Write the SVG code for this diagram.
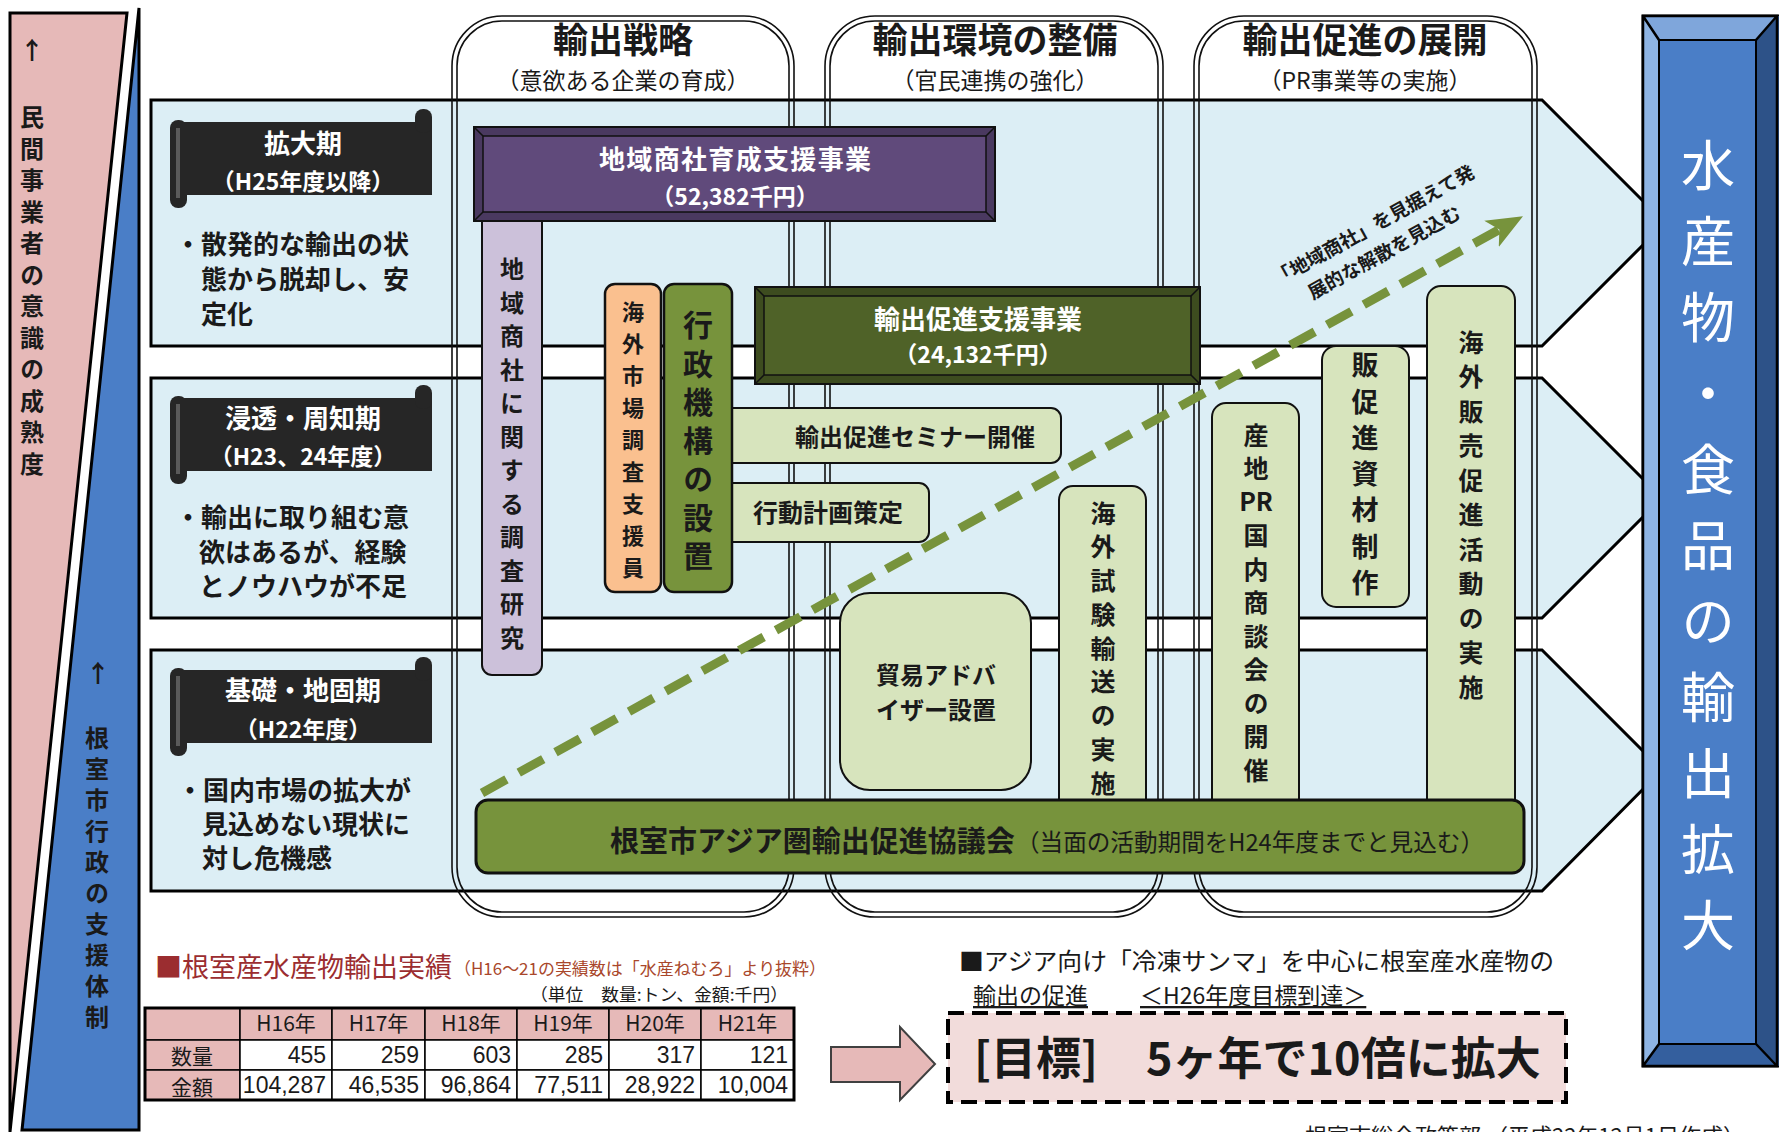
<svg xmlns="http://www.w3.org/2000/svg" width="1779" height="1132" viewBox="0 0 1779 1132">
<defs>
<style>
text{font-family:"Noto Sans CJK JP","Noto Sans",sans-serif;fill:#1a1a1a}
.b{font-weight:700}
.m{text-anchor:middle}
.e{text-anchor:end}
.w{fill:#fff}
.v{writing-mode:vertical-rl;text-anchor:start}
.num{font-family:"Liberation Sans",Arial,sans-serif}
.row{fill:#DCEEF5;stroke:#000;stroke-width:3;stroke-linejoin:miter}
.col{fill:none;stroke:#111;stroke-width:1.6}
.lg{fill:#D7E4BD;stroke:#111;stroke-width:2}
.sc{fill:#262626}
.pk{fill:#E6B9B8;stroke:#000;stroke-width:1.5}
.wc{fill:#fff;stroke:#000;stroke-width:1.5}
.bev{stroke:#111;stroke-width:1.5;fill:none}
</style>
<marker id="ah" markerUnits="userSpaceOnUse" markerWidth="36" markerHeight="36" viewBox="0 0 36 36" refX="12" refY="18" orient="auto"><path d="M0,3 L36,18 L0,33 L9,18 Z" fill="#77933C"/></marker>
</defs>
<rect width="1779" height="1132" fill="#fff"/>

<g id="side-private">
<path d="M10,13 L127,13 L10,1132 Z" fill="#E6B9B8" stroke="#000" stroke-width="3"/>
<text class="b m" x="32" y="59" font-size="24">↑</text>
<text class="b v" x="32" y="105" font-size="24" letter-spacing="7.5">民間事業者の意識の成熟度</text>
</g>
<g id="side-city">
<path d="M139,8 L139,1130 L22,1130 Z" fill="#4A7EC7" stroke="#000" stroke-width="3"/>
<text class="b m" x="98" y="682" font-size="24">↑</text>
<text class="b v" x="97" y="726" font-size="24" letter-spacing="7">根室市行政の支援体制</text>
</g>

<g id="rows">
<path class="row" d="M151,100 H1542 L1665,223 L1542,346 H151 Z"/>
<path class="row" d="M151,378 H1542 L1662,498 L1542,618 H151 Z"/>
<path class="row" d="M151,650 H1542 L1662,770 L1542,891 H151 Z"/>
</g>

<g id="col-strategy">
<rect class="col" x="452" y="16" width="342" height="901" rx="50"/>
<rect class="col" x="457" y="21" width="332" height="891" rx="45"/>
<text class="b m" x="623" y="53" font-size="35">輸出戦略</text>
<text class="m" x="623" y="89" font-size="23">（意欲ある企業の育成）</text>
</g>
<g id="col-environment">
<rect class="col" x="825" y="16" width="338" height="901" rx="50"/>
<rect class="col" x="830" y="21" width="328" height="891" rx="45"/>
<text class="b m" x="995" y="53" font-size="35">輸出環境の整備</text>
<text class="m" x="995" y="89" font-size="23">（官民連携の強化）</text>
</g>
<g id="col-promotion">
<rect class="col" x="1194" y="16" width="343" height="901" rx="50"/>
<rect class="col" x="1199" y="21" width="333" height="891" rx="45"/>
<text class="b m" x="1365" y="53" font-size="35">輸出促進の展開</text>
<text class="m" x="1365" y="89" font-size="23">（PR事業等の実施）</text>
</g>

<g id="phase-expansion">
<rect class="sc" x="170" y="120" width="17" height="88" rx="8"/>
<rect class="sc" x="178" y="122" width="254" height="73"/>
<rect class="sc" x="415" y="109" width="17" height="24" rx="8"/>
<rect x="176" y="128" width="4" height="70" fill="#5a5a5a"/>
<text class="b m w" x="303" y="153" font-size="26">拡大期</text>
<text class="b m w" x="303" y="190" font-size="23">（H25年度以降）</text>
<text class="b" font-size="26"><tspan x="175" y="254">・散発的な輸出の状</tspan><tspan x="201" y="289">態から脱却し、安</tspan><tspan x="201" y="324">定化</tspan></text>
</g>
<g id="phase-penetration">
<rect class="sc" x="170" y="396" width="17" height="88" rx="8"/>
<rect class="sc" x="178" y="398" width="254" height="73"/>
<rect class="sc" x="415" y="385" width="17" height="24" rx="8"/>
<rect x="176" y="404" width="4" height="70" fill="#5a5a5a"/>
<text class="b m w" x="303" y="428" font-size="26">浸透・周知期</text>
<text class="b m w" x="303" y="465" font-size="23">（H23、24年度）</text>
<text class="b" font-size="26"><tspan x="175" y="527">・輸出に取り組む意</tspan><tspan x="199" y="562">欲はあるが、経験</tspan><tspan x="199" y="596">とノウハウが不足</tspan></text>
</g>
<g id="phase-foundation">
<rect class="sc" x="170" y="668" width="17" height="88" rx="8"/>
<rect class="sc" x="178" y="670" width="254" height="73"/>
<rect class="sc" x="415" y="657" width="17" height="24" rx="8"/>
<rect x="176" y="676" width="4" height="70" fill="#5a5a5a"/>
<text class="b m w" x="303" y="700" font-size="26">基礎・地固期</text>
<text class="b m w" x="303" y="738" font-size="23">（H22年度）</text>
<text class="b" font-size="26"><tspan x="177" y="800">・国内市場の拡大が</tspan><tspan x="202" y="834">見込めない現状に</tspan><tspan x="202" y="868">対し危機感</tspan></text>
</g>

<g id="n-research">
<rect x="482" y="210" width="60" height="465" rx="10" fill="#CCC1DA" stroke="#111" stroke-width="2"/>
<text class="b v" x="512" y="257" font-size="24" letter-spacing="9.5">地域商社に関する調査研究</text>
</g>

<g id="n-trading-support">
<rect x="474" y="127" width="521" height="94" fill="#4A3960" stroke="#111" stroke-width="2"/>
<rect x="483" y="136" width="503" height="76" fill="#604A7B" stroke="#111" stroke-width="1.5"/>
<path class="bev" d="M474,127 L483,136 M995,127 L986,136 M474,221 L483,212 M995,221 L986,212"/>
<text class="b m w" x="735" y="169" font-size="26" textLength="272">地域商社育成支援事業</text>
<text class="b m w" x="735" y="205" font-size="23">（52,382千円）</text>
</g>

<g id="n-seminar">
<rect class="lg" x="715" y="408" width="346" height="55" rx="10"/>
<text class="b" x="795" y="446" font-size="24">輸出促進セミナー開催</text>
</g>
<g id="n-plan">
<rect class="lg" x="715" y="483" width="214" height="59" rx="10"/>
<text class="b" x="753" y="522" font-size="25">行動計画策定</text>
</g>

<g id="n-surveyor">
<rect x="605" y="284" width="56" height="308" rx="10" fill="#FAC08F" stroke="#111" stroke-width="2.5"/>
<text class="b v" x="633" y="301" font-size="22" letter-spacing="10">海外市場調査支援員</text>
</g>
<g id="n-admin">
<rect x="664" y="284" width="68" height="308" rx="10" fill="#77933C" stroke="#111" stroke-width="2.5"/>
<text class="b v" x="698" y="310" font-size="30" letter-spacing="8.5">行政機構の設置</text>
</g>

<g id="n-export-support">
<rect x="755" y="287" width="445" height="97" fill="#3D4C1F" stroke="#111" stroke-width="2"/>
<rect x="764" y="296" width="427" height="79" fill="#4F6228" stroke="#111" stroke-width="1.5"/>
<path class="bev" d="M755,287 L764,296 M1200,287 L1191,296 M755,384 L764,375 M1200,384 L1191,375"/>
<text class="b m w" x="978" y="329" font-size="26">輸出促進支援事業</text>
<text class="b m w" x="978" y="363" font-size="23">（24,132千円）</text>
</g>

<g id="n-advisor">
<rect class="lg" x="840" y="593" width="191" height="197" rx="30"/>
<text class="b m" x="936" y="684" font-size="24">貿易アドバ</text>
<text class="b m" x="936" y="719" font-size="24">イザー設置</text>
</g>

<g id="n-trial-shipping">
<rect class="lg" x="1059" y="486" width="87" height="340" rx="14"/>
<text class="b v" x="1103" y="500.5" font-size="25" letter-spacing="8.8">海外試験輸送の実施</text>
</g>
<g id="n-pr-fair">
<rect class="lg" x="1212" y="403" width="87" height="423" rx="14"/>
<text class="b v" x="1256" y="422.5" font-size="25" letter-spacing="8.5">産地</text>
<text class="b m" x="1256" y="511" font-size="25">PR</text>
<text class="b v" x="1256" y="523" font-size="25" letter-spacing="8.5">国内商談会の開催</text>
</g>
<g id="n-materials">
<rect class="lg" x="1322" y="346" width="87" height="261" rx="14"/>
<text class="b v" x="1365" y="351.5" font-size="27" letter-spacing="9.3">販促進資材制作</text>
</g>
<g id="n-overseas-sales">
<rect class="lg" x="1427" y="286" width="88" height="540" rx="14"/>
<text class="b v" x="1471" y="329.5" font-size="25" letter-spacing="9.5">海外販売促進活動の実施</text>
</g>

<g id="n-council">
<rect x="476" y="800" width="1048" height="73" rx="12" fill="#77933C" stroke="#111" stroke-width="3"/>
<text class="b" x="610" y="852" font-size="29">根室市アジア圏輸出促進協議会</text>
<text x="1016" y="851" font-size="24" textLength="468" lengthAdjust="spacingAndGlyphs">（当面の活動期間をH24年度までと見込む）</text>
</g>

<g id="n-goal-export">
<path d="M1643,16 H1779 V1066 H1643 Z" fill="#4A7EC7" stroke="#000" stroke-width="3"/>
<path d="M1643,16 L1659,40 L1659,1044 L1643,1066 Z" fill="#8EB4E3"/>
<path d="M1643,16 L1779,16 L1756,40 L1659,40 Z" fill="#7FA6DB"/>
<path d="M1779,16 L1756,40 L1756,1044 L1779,1066 Z" fill="#2D5288"/>
<path d="M1643,1066 L1659,1044 L1756,1044 L1779,1066 Z" fill="#345F9E"/>
<rect x="1659" y="40" width="97" height="1004" fill="#4A7EC7" stroke="#000" stroke-width="2"/>
<path d="M1643,16 H1777 V1066 H1643 Z M1643,16 L1659,40 M1777,16 L1756,40 M1643,1066 L1659,1044 M1777,1066 L1756,1044" fill="none" stroke="#000" stroke-width="2.5"/>
<text class="v w" x="1708" y="138" font-size="54" letter-spacing="22">水産物・食品の輸出拡大</text>
</g>

<g id="connectors">
<line x1="482" y1="793" x2="1502" y2="228" stroke="#77933C" stroke-width="9" stroke-dasharray="28 14" marker-end="url(#ah)"/>
<g transform="translate(1374,226) rotate(-29)">
<text class="b m" x="0" y="6" font-size="19">「地域商社」を見据えて発</text>
<text class="b m" x="-4" y="35" font-size="19">展的な解散を見込む</text>
</g>
</g>

<g id="n-record-table">
<text x="155" y="977" font-size="27" style="fill:#9B2D30">■根室産水産物輸出実績</text>
<text x="454" y="975" font-size="17" style="fill:#A9472B" textLength="372" lengthAdjust="spacingAndGlyphs">（H16～21の実績数は「水産ねむろ」より抜粋）</text>
<text x="530" y="1001" font-size="17" textLength="258" lengthAdjust="spacingAndGlyphs">（単位　数量:トン、金額:千円）</text>
<rect class="pk" x="145" y="1008" width="95" height="32"/>
<rect class="pk" x="240" y="1008" width="92" height="32"/>
<rect class="pk" x="332" y="1008" width="93" height="32"/>
<rect class="pk" x="425" y="1008" width="92" height="32"/>
<rect class="pk" x="517" y="1008" width="92" height="32"/>
<rect class="pk" x="609" y="1008" width="92" height="32"/>
<rect class="pk" x="701" y="1008" width="93" height="32"/>
<rect class="pk" x="145" y="1040" width="95" height="30"/>
<rect class="pk" x="145" y="1070" width="95" height="30"/>
<rect class="wc" x="240" y="1040" width="92" height="30"/>
<rect class="wc" x="332" y="1040" width="93" height="30"/>
<rect class="wc" x="425" y="1040" width="92" height="30"/>
<rect class="wc" x="517" y="1040" width="92" height="30"/>
<rect class="wc" x="609" y="1040" width="92" height="30"/>
<rect class="wc" x="701" y="1040" width="93" height="30"/>
<rect class="wc" x="240" y="1070" width="92" height="30"/>
<rect class="wc" x="332" y="1070" width="93" height="30"/>
<rect class="wc" x="425" y="1070" width="92" height="30"/>
<rect class="wc" x="517" y="1070" width="92" height="30"/>
<rect class="wc" x="609" y="1070" width="92" height="30"/>
<rect class="wc" x="701" y="1070" width="93" height="30"/>
<rect x="145" y="1008" width="649" height="92" fill="none" stroke="#000" stroke-width="3"/>
<text class="m" font-size="21"><tspan x="286" y="1031">H16年</tspan><tspan x="378.5" y="1031">H17年</tspan><tspan x="471" y="1031">H18年</tspan><tspan x="563" y="1031">H19年</tspan><tspan x="655" y="1031">H20年</tspan><tspan x="747.5" y="1031">H21年</tspan></text>
<text class="m" x="192" y="1064" font-size="21">数量</text>
<text class="m" x="192" y="1095" font-size="21">金額</text>
<text class="e num" font-size="23"><tspan x="326" y="1063">455</tspan><tspan x="419" y="1063">259</tspan><tspan x="511" y="1063">603</tspan><tspan x="603" y="1063">285</tspan><tspan x="695" y="1063">317</tspan><tspan x="788" y="1063">121</tspan></text>
<text class="e num" font-size="23"><tspan x="326" y="1093">104,287</tspan><tspan x="419" y="1093">46,535</tspan><tspan x="511" y="1093">96,864</tspan><tspan x="603" y="1093">77,511</tspan><tspan x="695" y="1093">28,922</tspan><tspan x="788" y="1093">10,004</tspan></text>
</g>

<g id="n-arrow-goal">
<path d="M831,1047 H900 V1027 L935,1064 L900,1100 V1082 H831 Z" fill="#E6B9B8" stroke="#404040" stroke-width="2"/>
</g>

<g id="n-goal">
<text x="959" y="970" font-size="24" textLength="595" lengthAdjust="spacingAndGlyphs">■アジア向け「冷凍サンマ」を中心に根室産水産物の</text>
<text font-size="23"><tspan x="973" y="1004" text-decoration="underline">輸出の促進</tspan><tspan x="1140" y="1004" text-decoration="underline">＜H26年度目標到達＞</tspan></text>
<rect x="948" y="1013" width="618" height="89" fill="#F2DCDB" stroke="#000" stroke-width="4" stroke-dasharray="16 8"/>
<text class="b" font-size="45"><tspan x="974" y="1075">[目標]</tspan><tspan x="1146" y="1075">5ヶ年で10倍に拡大</tspan></text>
</g>

<text x="1305" y="1144" font-size="22">根室市総合政策部 （平成22年12月1日作成）</text>
</svg>
